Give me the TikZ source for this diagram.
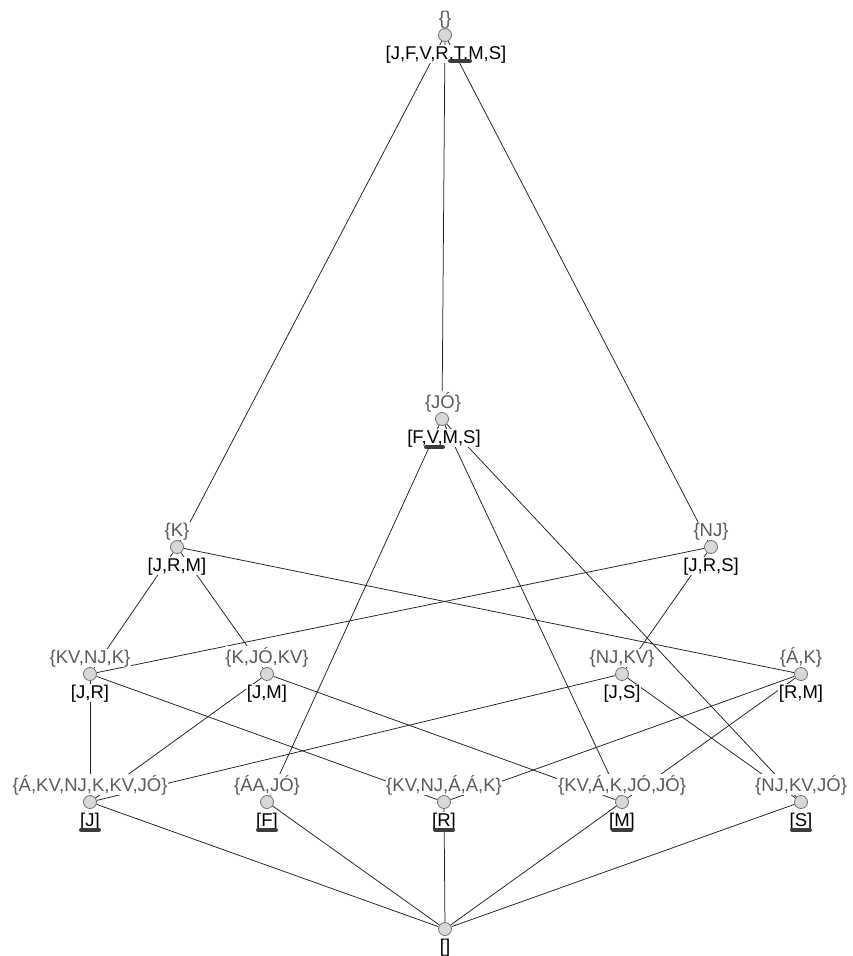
\documentclass[tikz,border=0pt]{standalone}
\usepackage{fontspec}
\setmainfont{Liberation Sans}
\definecolor{circfill}{HTML}{D8D8D8}
\definecolor{circdraw}{HTML}{707070}
\definecolor{objgray}{HTML}{5A5A5A}
\definecolor{edgecol}{HTML}{1E1E1E}
\definecolor{bargray}{HTML}{3C3C3C}
\pgfdeclarelayer{bglayer}
\pgfdeclarelayer{edgelayer}
\pgfdeclarelayer{labellayer}
\pgfsetlayers{bglayer,edgelayer,labellayer,main}
\begin{document}
\begin{tikzpicture}[x=1pt,y=-1pt,
  concept/.style={circle,fill=circfill,draw=circdraw,line width=0.8pt,minimum size=13pt,inner sep=0pt},
  lblbase/.style={anchor=base,fill=white,inner sep=0.6pt,font=\fontsize{18.5}{19}\selectfont},
  objlbl/.style={lblbase,text=objgray},
  attlbl/.style={lblbase,text=black},
  edge/.style={draw=edgecol,line width=0.75pt},
  redbar/.style={draw=bargray,line width=4pt,line cap=round}]
\begin{pgfonlayer}{bglayer}
\fill[white] (0,0) rectangle (853,956);
\end{pgfonlayer}
\useasboundingbox (0,0) rectangle (853,956);

% concept circles
\node[concept] (top)   at (445,35) {};
\node[concept] (jo)    at (442,419) {};
\node[concept] (k)     at (177,547) {};
\node[concept] (nj)    at (711,547) {};
\node[concept] (kvnjk) at (90,674) {};
\node[concept] (kjokv) at (267,674) {};
\node[concept] (njkv)  at (622,674) {};
\node[concept] (ak)    at (801,674) {};
\node[concept] (nA)    at (90,802) {};
\node[concept] (nB)    at (267,802) {};
\node[concept] (nC)    at (444,802) {};
\node[concept] (nD)    at (622,802) {};
\node[concept] (nE)    at (801,802) {};
\node[concept] (bot)   at (445,929) {};

% edges
\begin{pgfonlayer}{edgelayer}
\draw[edge] (top) -- (k);
\draw[edge] (top) -- (jo);
\draw[edge] (top) -- (nj);
\draw[edge] (jo) -- (nB);
\draw[edge] (jo) -- (nD);
\draw[edge] (jo) -- (nE);
\draw[edge] (k) -- (kvnjk);
\draw[edge] (k) -- (kjokv);
\draw[edge] (k) -- (ak);
\draw[edge] (nj) -- (kvnjk);
\draw[edge] (nj) -- (njkv);
\draw[edge] (kvnjk) -- (nA);
\draw[edge] (kvnjk) -- (nC);
\draw[edge] (kjokv) -- (nA);
\draw[edge] (kjokv) -- (nD);
\draw[edge] (njkv) -- (nA);
\draw[edge] (njkv) -- (nE);
\draw[edge] (ak) -- (nC);
\draw[edge] (ak) -- (nD);
\draw[edge] (nA) -- (bot);
\draw[edge] (nB) -- (bot);
\draw[edge] (nC) -- (bot);
\draw[edge] (nD) -- (bot);
\draw[edge] (nE) -- (bot);
\end{pgfonlayer}

% labels
\begin{pgfonlayer}{labellayer}
\node[objlbl] (top-o) at (445,24) {\{\}};
\node[attlbl] (top-a) at (446,59) {[J,F,V,R,T,M,S]};
\node[objlbl] (jo-o) at (443,408) {\{JÓ\}};
\node[attlbl] (jo-a) at (444,443) {[F,V,M,S]};
\node[objlbl] (k-o) at (177,536) {\{K\}};
\node[attlbl] (k-a) at (177,571) {[J,R,M]};
\node[objlbl] (nj-o) at (711,536) {\{NJ\}};
\node[attlbl] (nj-a) at (711,571) {[J,R,S]};
\node[objlbl] (kvnjk-o) at (90,663) {\{KV,NJ,K\}};
\node[attlbl] (kvnjk-a) at (90,698) {[J,R]};
\node[objlbl] (kjokv-o) at (267,663) {\{K,JÓ,KV\}};
\node[attlbl] (kjokv-a) at (267,698) {[J,M]};
\node[objlbl] (njkv-o) at (622,663) {\{NJ,KV\}};
\node[attlbl] (njkv-a) at (622,698) {[J,S]};
\node[objlbl] (ak-o) at (801,663) {\{Á,K\}};
\node[attlbl] (ak-a) at (801,698) {[R,M]};
\node[objlbl] (nA-o) at (90,791) {\{Á,KV,NJ,K,KV,JÓ\}};
\node[attlbl] (nA-a) at (90,826) {[J]};
\node[objlbl] (nB-o) at (267,791) {\{ÁA,JÓ\}};
\node[attlbl] (nB-a) at (267,826) {[F]};
\node[objlbl] (nC-o) at (444,791) {\{KV,NJ,Á,Á,K\}};
\node[attlbl] (nC-a) at (444,826) {[R]};
\node[objlbl] (nD-o) at (622,791) {\{KV,Á,K,JÓ,JÓ\}};
\node[attlbl] (nD-a) at (622,826) {[M]};
\node[objlbl] (nE-o) at (801,791) {\{NJ,KV,JÓ\}};
\node[attlbl] (nE-a) at (801,826) {[S]};
\node[attlbl] (bot-a) at (445,952) {[]};
\end{pgfonlayer}

% bars
\draw[redbar] (450,61) -- (470,61);
\draw[redbar] (426,447) -- (443,447);
\draw[redbar] (81,830) -- (99,830);
\draw[redbar] (258,830) -- (276,830);
\draw[redbar] (435,830) -- (453,830);
\draw[redbar] (613,830) -- (631,830);
\draw[redbar] (792,830) -- (810,830);
\end{tikzpicture}
\end{document}
